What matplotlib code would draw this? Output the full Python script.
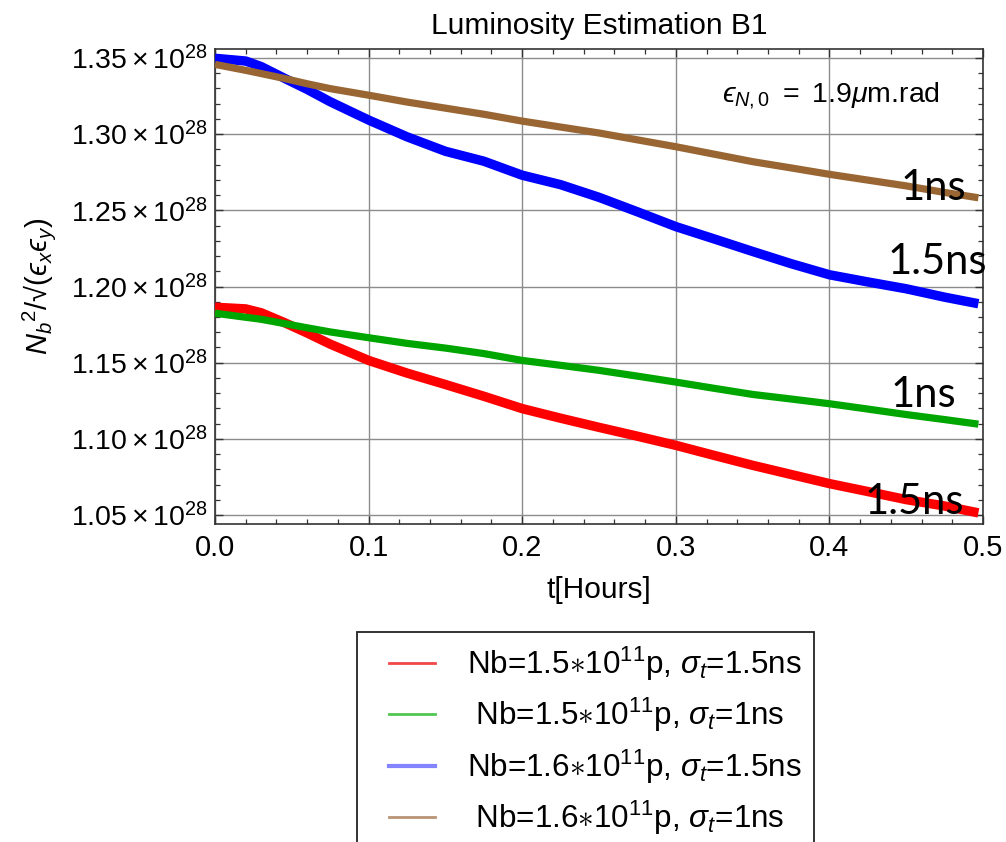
import matplotlib
matplotlib.use("Agg")
import matplotlib.pyplot as plt
from matplotlib.lines import Line2D
from matplotlib.legend_handler import HandlerLine2D
from matplotlib.ticker import MultipleLocator, FixedLocator, FixedFormatter

plt.rcParams['font.family'] = ['Liberation Sans', 'DejaVu Sans']
plt.rcParams['mathtext.fontset'] = 'custom'
plt.rcParams['mathtext.rm'] = 'Liberation Sans'
plt.rcParams['mathtext.it'] = 'Liberation Sans:italic'
plt.rcParams['mathtext.bf'] = 'Liberation Sans:bold'

SCALE = 1e28
t_hours = [0, 0.02, 0.03, 0.045, 0.06, 0.075, 0.1, 0.125, 0.15, 0.175, 0.2, 0.225,
           0.25, 0.275, 0.3, 0.325, 0.35, 0.375, 0.4, 0.425, 0.45, 0.475, 0.497]

red_15_15 = [1.1864, 1.1853, 1.1828, 1.1764, 1.1695, 1.1622, 1.1515, 1.1432, 1.1357, 1.1280,
             1.1199, 1.1136, 1.1076, 1.1018, 1.0958, 1.0892, 1.0827, 1.0767, 1.0707, 1.0655,
             1.0602, 1.0560, 1.0515]
green_15_1 = [1.1825, 1.1798, 1.1785, 1.1757, 1.1729, 1.1702, 1.1664, 1.1627, 1.1596, 1.1560,
              1.1515, 1.1483, 1.1450, 1.1412, 1.1373, 1.1332, 1.1292, 1.1262, 1.1231, 1.1196,
              1.1160, 1.1127, 1.1097]
blue_16_15 = [1.3497, 1.3479, 1.3443, 1.3367, 1.3293, 1.3212, 1.3092, 1.2982, 1.2887, 1.2822,
              1.2730, 1.2668, 1.2585, 1.2490, 1.2393, 1.2312, 1.2230, 1.2150, 1.2077, 1.2030,
              1.1985, 1.1930, 1.1887]
brown_16_1 = [1.3457, 1.3418, 1.3397, 1.3365, 1.3330, 1.3298, 1.3255, 1.3210, 1.3170, 1.3130,
              1.3085, 1.3046, 1.3007, 1.2962, 1.2917, 1.2868, 1.2819, 1.2778, 1.2736, 1.2698,
              1.2660, 1.2617, 1.2582]

series_labels = [r'Nb=1.5$\ast$10$^{11}$p, $\sigma_t$=1.5ns',
                 r' Nb=1.5$\ast$10$^{11}$p, $\sigma_t$=1ns',
                 r'Nb=1.6$\ast$10$^{11}$p, $\sigma_t$=1.5ns',
                 r' Nb=1.6$\ast$10$^{11}$p, $\sigma_t$=1ns']
series_colors = ['#ff0000', '#00a600', '#0000ff', '#996633']
legend_colors = ['#f04848', '#50c850', '#8484ff', '#b89474']
series_widths = [6.8, 5.2, 6.8, 5.2]

yticks = [1.05, 1.10, 1.15, 1.20, 1.25, 1.30, 1.35]
ytick_labels = [r'$\mathregular{%.2f\times10^{28}}$' % v for v in yticks]
xticks = [0.0, 0.1, 0.2, 0.3, 0.4, 0.5]
xtick_labels = ['0.0', '0.1', '0.2', '0.3', '0.4', '0.5']


class RightLine(HandlerLine2D):
    """Draw the legend line only in the right part of the handle box."""
    frac = 0.70

    def get_xdata(self, legend, xdescent, ydescent, width, height, fontsize):
        x1 = -xdescent + width
        x0 = x1 - width * self.frac
        return [x0, x1], [x0, x1]


fig = plt.figure(figsize=(10.06, 8.42), dpi=100)
ax = fig.add_axes([215/1006, 1-524/842, (983-215)/1006, (524-49)/842])

for vals, col, lw in zip([red_15_15, green_15_1, blue_16_15, brown_16_1], series_colors, series_widths):
    ax.plot(t_hours, [v*SCALE for v in vals], color=col, lw=lw, solid_capstyle='butt',
            solid_joinstyle='round', zorder=3)

ax.set_xlim(0, 0.5)
ax.set_ylim(1.0442*SCALE, 1.3558*SCALE)
ax.xaxis.set_major_locator(FixedLocator(xticks))
ax.xaxis.set_major_formatter(FixedFormatter(xtick_labels))
ax.xaxis.set_minor_locator(MultipleLocator(0.02))
ax.yaxis.set_major_locator(FixedLocator([v*SCALE for v in yticks]))
ax.yaxis.set_major_formatter(FixedFormatter(ytick_labels))
ax.yaxis.set_minor_locator(MultipleLocator(0.01*SCALE))
ax.tick_params(which='both', direction='in', top=True, right=True, colors='#333333',
               labelcolor='black')
ax.tick_params(axis='y', labelsize=20.5)
ax.tick_params(axis='x', labelsize=21)
ax.tick_params(which='major', length=6, width=1.0, pad=5)
ax.tick_params(which='minor', length=3.5, width=0.9)
ax.tick_params(axis='x', which='major', pad=7)
ax.grid(True, which='major', color='#8c8c8c', lw=1.0)
for s in ax.spines.values():
    s.set_color('#333333')
    s.set_linewidth(1.2)

ax.set_title('Luminosity Estimation B1', fontsize=21.5, pad=11)
ax.set_xlabel('t[Hours]', fontsize=21.5, labelpad=10)
ax.set_ylabel(r'$N_b{}^2/√(ϵ_xϵ_y)$', fontsize=21)
ax.yaxis.set_label_coords(-0.205, 0.5)

ax.text(0.401, 1.3211*SCALE, r'$ϵ_{N,0}\ =\ 1.9\mu$m.rad', fontsize=20.5,
        ha='center', va='baseline')

tag_font = dict(family=['Lato', 'DejaVu Sans'], fontsize=30, va='baseline', ha='left', zorder=5)
ax.text(0.446, 1.2570*SCALE, '1ns', **tag_font)
ax.text(0.438, 1.2079*SCALE, '1.5ns', **tag_font)
ax.text(0.4395, 1.1209*SCALE, '1ns', **tag_font)
ax.text(0.423, 1.0509*SCALE, '1.5ns', **tag_font)

handles = [Line2D([], [], color=c, lw=(3 if i == 2 else 2)) for i, c in enumerate(legend_colors)]
leg = fig.legend(handles, series_labels, loc='upper left',
                 bbox_to_anchor=(357/1006, 1-632/842), bbox_transform=fig.transFigure,
                 borderaxespad=0, fontsize=22.6, frameon=True, fancybox=False,
                 edgecolor='#222222', framealpha=1, handlelength=2.1,
                 handletextpad=1.0, borderpad=0.4, labelspacing=0.42,
                 handler_map={Line2D: RightLine()})
leg.get_frame().set_linewidth(1.3)

fig.savefig('out.png', dpi=100, facecolor='white')
